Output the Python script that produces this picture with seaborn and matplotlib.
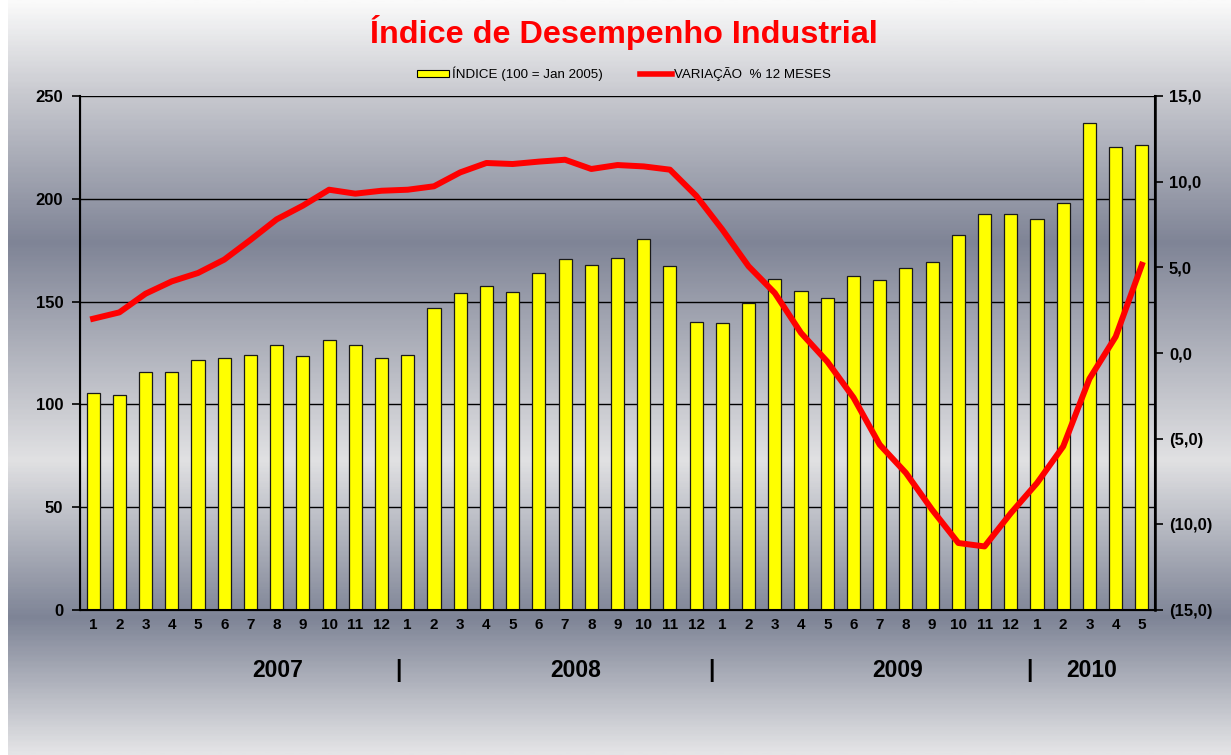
import numpy as np
import pandas as pd
import seaborn as sns
import matplotlib
matplotlib.use("Agg")
import matplotlib.pyplot as plt
from matplotlib.patches import Patch
from matplotlib.lines import Line2D
from matplotlib.colors import LinearSegmentedColormap

# data
years = ["2007"] * 12 + ["2008"] * 12 + ["2009"] * 12 + ["2010"] * 5
months = list(range(1, 13)) * 3 + list(range(1, 6))
indice = [105.7, 104.7, 115.9, 115.9, 121.7, 122.4, 124.0, 128.7, 123.5, 131.2, 128.7, 122.4,
          124.0, 147.0, 154.2, 157.6, 154.8, 163.8, 170.7, 167.9, 171.4, 180.6, 167.2, 140.1,
          139.4, 149.5, 161.2, 155.3, 151.6, 162.3, 160.5, 166.5, 169.4, 182.4, 192.6, 192.6,
          190.2, 197.8, 236.7, 225.4, 226.2]
variacao = [2.0, 2.37, 3.46, 4.18, 4.67, 5.45, 6.6, 7.8, 8.6, 9.53, 9.3, 9.47,
            9.53, 9.73, 10.54, 11.09, 11.03, 11.17, 11.28, 10.74, 10.97, 10.89, 10.70, 9.18,
            7.2, 5.06, 3.5, 1.17, -0.5, -2.6, -5.35, -7.0, -9.15, -11.09, -11.29, -9.35,
            -7.59, -5.45, -1.5, 0.95, 5.15]
left_ticks = [0, 50, 100, 150, 200, 250]
right_ticks = [-15, -10, -5, 0, 5, 10, 15]
right_labels = ["(15,0)", "(10,0)", "(5,0)", "0,0", "5,0", "10,0", "15,0"]
year_labels = ["2007", "|", "2008", "|", "2009", "|", "2010"]
year_pos = [7.05, 11.63, 18.4, 23.6, 30.7, 35.7, 38.1]

df = pd.DataFrame({
    "periodo": [f"{y}-{m:02d}" for y, m in zip(years, months)],
    "indice": indice,
    "variacao": variacao,
    "pos": range(len(indice)),
})

FONT = ["Liberation Sans Narrow", "Liberation Sans", "DejaVu Sans"]
W, H = 1231, 755
fig = plt.figure(figsize=(W / 100, H / 100), dpi=100)

# grey gradient background
bg_cmap = LinearSegmentedColormap.from_list("bg", [
    (0.0, "#fafafa"), (0.12, "#c9cad0"), (0.32, "#7f8496"),
    (0.61, "#e1e1e3"), (0.82, "#7e8496"), (1.0, "#e4e4e6")])
bg = fig.add_axes([8 / W, 0, 1 - 8 / W, 1], zorder=-10)
bg.imshow(np.linspace(0, 1, 400).reshape(-1, 1), cmap=bg_cmap, aspect="auto", extent=[0, 1, 0, 1])
bg.axis("off")

ax = fig.add_axes([80 / W, 145 / H, 1075 / W, 514 / H])
ax.set_facecolor("none")
sns.barplot(data=df, x="periodo", y="indice", color="#ffff00", saturation=1,
            edgecolor="#1a1a1a", linewidth=0.9, width=0.5, ax=ax)
ax.set_ylim(0, 250)
ax.set_xlim(-0.5, len(indice) - 0.5)
ax.set_yticks(left_ticks)
ax.set_yticklabels([str(t) for t in left_ticks], fontweight="bold", fontsize=12, family="Liberation Sans")
ax.set_xticks(range(len(months)))
ax.set_xticklabels([str(m) for m in months], fontweight="bold", fontsize=11, family=FONT)
ax.tick_params(axis="x", length=0, pad=6)
ax.tick_params(axis="y", length=6, width=1.2, pad=6)
ax.yaxis.grid(True, color="black", lw=1.0)
ax.set_axisbelow(True)
ax.set_xlabel("")
ax.set_ylabel("")
ax.spines["top"].set_visible(False)
for s in ["left", "bottom", "right"]:
    ax.spines[s].set_color("black")
    ax.spines[s].set_linewidth(1.5)

ax2 = ax.twinx()
sns.lineplot(data=df, x="pos", y="variacao", color="#ff0000", lw=4.3, ax=ax2)
ax2.set_ylim(-15, 15)
ax2.set_xlim(-0.5, len(indice) - 0.5)
ax2.set_yticks(right_ticks)
ax2.set_yticklabels(right_labels, fontweight="bold", fontsize=12, family="Liberation Sans")
ax2.tick_params(axis="y", length=6, width=1.2, pad=4)
ax2.set_ylabel("")
ax2.set_xlabel("")
ax2.spines["top"].set_visible(False)
ax2.spines["right"].set_linewidth(1.8)

for lab, xp in zip(year_labels, year_pos):
    ax.text(xp, -0.117, lab, transform=ax.get_xaxis_transform(), ha="center", va="center",
            fontsize=16.5, fontweight="bold", family=FONT)

fig.text(0.507, 1 - 33 / H, "Índice de Desempenho Industrial", color="#ff0000",
         fontsize=23.3, fontweight="bold", ha="center", va="center", family=FONT)

handles = [Patch(facecolor="#ffff00", edgecolor="black", linewidth=0.8),
           Line2D([], [], color="#ff0000", lw=4)]
fig.legend(handles, ["ÍNDICE (100 = Jan 2005)", "VARIAÇÃO  % 12 MESES"], loc="center",
           bbox_to_anchor=(0.507, 1 - 74 / H), ncol=2, frameon=False,
           handlelength=2.4, handleheight=0.45, handletextpad=0.2, columnspacing=2.8,
           prop={"family": "Liberation Sans", "size": 9.6})

fig.savefig("out.png", dpi=100)
